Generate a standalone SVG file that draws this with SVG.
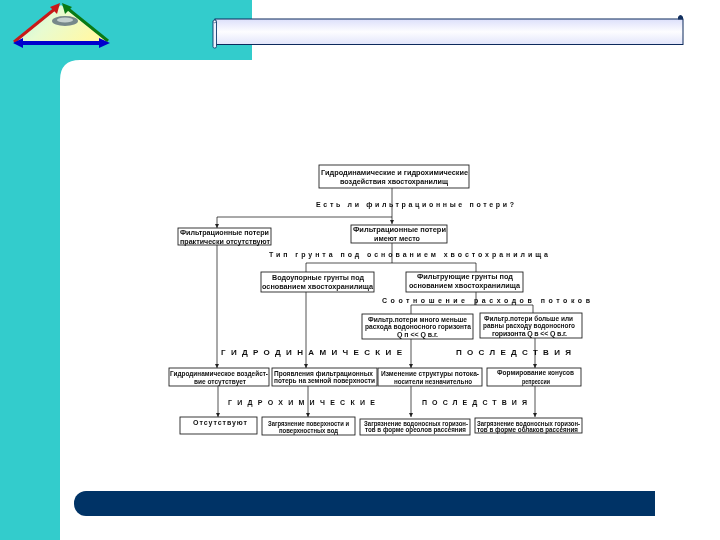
<svg xmlns="http://www.w3.org/2000/svg" width="720" height="540" viewBox="0 0 720 540">
<style>
text{font-family:"Liberation Sans",Arial,sans-serif;font-weight:700;font-size:7px;fill:#111}
.b{fill:#fff;stroke:#222;stroke-width:.9}
.c{fill:none;stroke:#222;stroke-width:.8}
.s{font-size:7px}
.l{font-size:8px}
</style>
<defs>
<marker id="a" markerWidth="5" markerHeight="5" refX="4" refY="2.5" orient="auto" markerUnits="userSpaceOnUse"><path d="M0 0.5L4 2.5L0 4.5Z" fill="#222"/></marker>
<linearGradient id="tri" x1="0" y1="0" x2="1" y2="0.4"><stop offset="0" stop-color="#b5f5e8"/><stop offset=".5" stop-color="#e8fbd0"/><stop offset="1" stop-color="#fff9a8"/></linearGradient>
<linearGradient id="ban" x1="0" y1="0" x2="0" y2="1"><stop offset="0" stop-color="#dcdffa"/><stop offset=".5" stop-color="#fdfdff"/><stop offset="1" stop-color="#e2e5fb"/></linearGradient>
<filter id="soft" x="-2%" y="-2%" width="104%" height="104%"><feGaussianBlur stdDeviation="0.3"/></filter>
</defs>
<rect width="720" height="540" fill="#fff"/>
<path d="M0 0H252V60H80Q60 60 60 80V540H0Z" fill="#33cccc"/>
<g id="logo">
<path d="M61 5L108 42H14Z" fill="url(#tri)"/>
<ellipse cx="65" cy="21" rx="13" ry="5" fill="#77888a"/>
<ellipse cx="65" cy="20" rx="8" ry="2.500" fill="#c5d0ce"/>
<path d="M14 42L56 8" stroke="#c81818" stroke-width="3" fill="none"/><path d="M60 3L50 7L57 14Z" fill="#c81818"/>
<path d="M108 41L67 8" stroke="#0a7a14" stroke-width="3" fill="none"/><path d="M62 3L72 7L65 14Z" fill="#0a7a14"/>
<path d="M20 43H103" stroke="#0000cc" stroke-width="4" fill="none"/><path d="M13 43L23 38V48Z M110 43L99 38V48Z" fill="#0000cc"/>
</g>
<g id="banner">
<rect x="215" y="19" width="468" height="25.500" fill="url(#ban)" stroke="#0d2a5c" stroke-width="1"/>
<rect x="213" y="20" width="3.500" height="28" rx="1.500" fill="#eef2ff" stroke="#0d3a6c" stroke-width=".9"/>
<circle cx="214.700" cy="21.500" r="1.300" fill="#fff" stroke="#0d3a6c" stroke-width=".6"/>
<path d="M678 19.500V17Q680.500 13 683 17V19.500Z" fill="#12305f"/>
</g>
<g id="footer">
<rect x="74" y="491" width="60" height="25" rx="12" fill="#003366"/>
<rect x="90" y="491" width="565" height="25" fill="#003366"/>
</g>
<g filter="url(#soft)">
<g id="connectors">
<path class="c" d="M392 188V224" marker-end="url(#a)"/>
<path class="c" d="M392 217H217V228" marker-end="url(#a)"/>
<path class="c" d="M217 245V368" marker-end="url(#a)"/>
<path class="c" d="M218 386V417" marker-end="url(#a)"/>
<path class="c" d="M392 243V263"/>
<path class="c" d="M306 272V263H476V272"/>
<path class="c" d="M306 292V368" marker-end="url(#a)"/>
<path class="c" d="M308 386V417" marker-end="url(#a)"/>
<path class="c" d="M476 292V305"/>
<path class="c" d="M411 314V305H533V313"/>
<path class="c" d="M411 339V368" marker-end="url(#a)"/>
<path class="c" d="M411 386V417" marker-end="url(#a)"/>
<path class="c" d="M535 338V368" marker-end="url(#a)"/>
<path class="c" d="M535 386V417" marker-end="url(#a)"/>
</g>
<g id="n1"><rect class="b" x="319" y="165" width="150" height="23"/>
<text x="321" y="174.500" textLength="147" lengthAdjust="spacingAndGlyphs">Гидродинамические и гидрохимические</text>
<text x="340" y="183.500" textLength="108" lengthAdjust="spacingAndGlyphs">воздействия хвостохранилищ</text></g>
<g id="n2"><rect class="b" x="178" y="228" width="93" height="17"/>
<text x="180" y="234.500" textLength="89" lengthAdjust="spacingAndGlyphs">Фильтрационные потери</text>
<text x="180" y="243.500" textLength="90" lengthAdjust="spacingAndGlyphs">практически отсутствуют</text></g>
<g id="n3"><rect class="b" x="351" y="225" width="96" height="18"/>
<text x="353" y="231.500" textLength="93" lengthAdjust="spacingAndGlyphs">Фильтрационные потери</text>
<text x="374" y="240.500" textLength="46" lengthAdjust="spacingAndGlyphs">имеют место</text></g>
<g id="n4"><rect class="b" x="261" y="272" width="113" height="20"/>
<text x="272" y="279.500" textLength="92" lengthAdjust="spacingAndGlyphs">Водоупорные грунты под</text>
<text x="262" y="288.500" textLength="111" lengthAdjust="spacingAndGlyphs">основанием хвостохранилища</text></g>
<g id="n5"><rect class="b" x="406" y="272" width="117" height="20"/>
<text x="417" y="278.500" textLength="96" lengthAdjust="spacingAndGlyphs">Фильтрующие грунты под</text>
<text x="409" y="287.500" textLength="111" lengthAdjust="spacingAndGlyphs">основанием хвостохранилища</text></g>
<g id="n6"><rect class="b" x="362" y="314" width="111" height="25"/>
<text x="368" y="321.500" textLength="99" lengthAdjust="spacingAndGlyphs">Фильтр.потери много меньше</text>
<text x="365" y="328.500" textLength="106" lengthAdjust="spacingAndGlyphs">расхода водоносного горизонта</text>
<text x="397" y="336.500" textLength="41" lengthAdjust="spacing">Q п &lt;&lt; Q в.г.</text></g>
<g id="n7"><rect class="b" x="480" y="313" width="102" height="25"/>
<text x="484" y="320.500" textLength="89" lengthAdjust="spacingAndGlyphs">Фильтр.потери больше или</text>
<text x="483" y="327.500" textLength="92" lengthAdjust="spacingAndGlyphs">равны расходу водоносного</text>
<text x="492" y="335.500" textLength="75" lengthAdjust="spacing">горизонта  Q в &lt;&lt; Q в.г.</text></g>
<g id="n8"><rect class="b" x="169" y="368" width="100" height="18"/>
<text x="170" y="375.500" textLength="98" lengthAdjust="spacingAndGlyphs">Гидродинамическое воздейст-</text>
<text x="194" y="383.500" textLength="52" lengthAdjust="spacingAndGlyphs">вие отсутствует</text></g>
<g id="n9"><rect class="b" x="272" y="368" width="105" height="18"/>
<text x="274" y="375.500" textLength="99" lengthAdjust="spacingAndGlyphs">Проявления фильтрационных</text>
<text x="274" y="382.500" textLength="101" lengthAdjust="spacingAndGlyphs">потерь на земной поверхности</text></g>
<g id="n10"><rect class="b" x="378" y="368" width="104" height="18"/>
<text x="381" y="375.500" textLength="98" lengthAdjust="spacingAndGlyphs">Изменение структуры потока-</text>
<text x="394" y="383.500" textLength="78" lengthAdjust="spacingAndGlyphs">носители незначительно</text></g>
<g id="n11"><rect class="b" x="487" y="368" width="94" height="18"/>
<text x="497" y="374.500" textLength="77" lengthAdjust="spacingAndGlyphs">Формирование конусов</text>
<text x="522" y="383.500" textLength="28" lengthAdjust="spacingAndGlyphs">репрессии</text></g>
<g id="n12"><rect class="b" x="180" y="417" width="77" height="17"/>
<text class="s" x="193" y="424.500" textLength="54" lengthAdjust="spacing">Отсутствуют</text></g>
<g id="n13"><rect class="b" x="262" y="417" width="93" height="18"/>
<text x="268" y="425.500" textLength="81" lengthAdjust="spacingAndGlyphs">Загрязнение поверхности и</text>
<text x="279" y="432.500" textLength="59" lengthAdjust="spacingAndGlyphs">поверхностных вод</text></g>
<g id="n14"><rect class="b" x="360" y="419" width="110" height="16"/>
<text x="364" y="425.500" textLength="104" lengthAdjust="spacingAndGlyphs">Загрязнение водоносных горизон-</text>
<text x="365" y="431.500" textLength="101" lengthAdjust="spacingAndGlyphs">тов в форме ореолов рассеяния</text></g>
<g id="n15"><rect class="b" x="475" y="418" width="107" height="15"/>
<text x="477" y="425.500" textLength="103" lengthAdjust="spacingAndGlyphs">Загрязнение водоносных горизон-</text>
<text x="477" y="431.500" textLength="101" lengthAdjust="spacingAndGlyphs">тов в форме облаков рассеяния</text></g>
<g id="labels">
<text class="s" x="316" y="206.500" textLength="198" lengthAdjust="spacing">Есть  ли  фильтрационные  потери?</text>
<text class="s" x="269" y="256.500" textLength="279" lengthAdjust="spacing">Тип  грунта  под  основанием  хвостохранилища</text>
<text class="s" x="382" y="302.500" textLength="208" lengthAdjust="spacing">Соотношение  расходов  потоков</text>
<text class="l" x="221" y="355" textLength="181" lengthAdjust="spacing">ГИДРОДИНАМИЧЕСКИЕ</text>
<text class="l" x="456" y="355" textLength="115" lengthAdjust="spacing">ПОСЛЕДСТВИЯ</text>
<text class="s" x="228" y="405" textLength="147" lengthAdjust="spacing">ГИДРОХИМИЧЕСКИЕ</text>
<text class="s" x="422" y="405" textLength="105" lengthAdjust="spacing">ПОСЛЕДСТВИЯ</text>
</g>
</g>
</svg>
